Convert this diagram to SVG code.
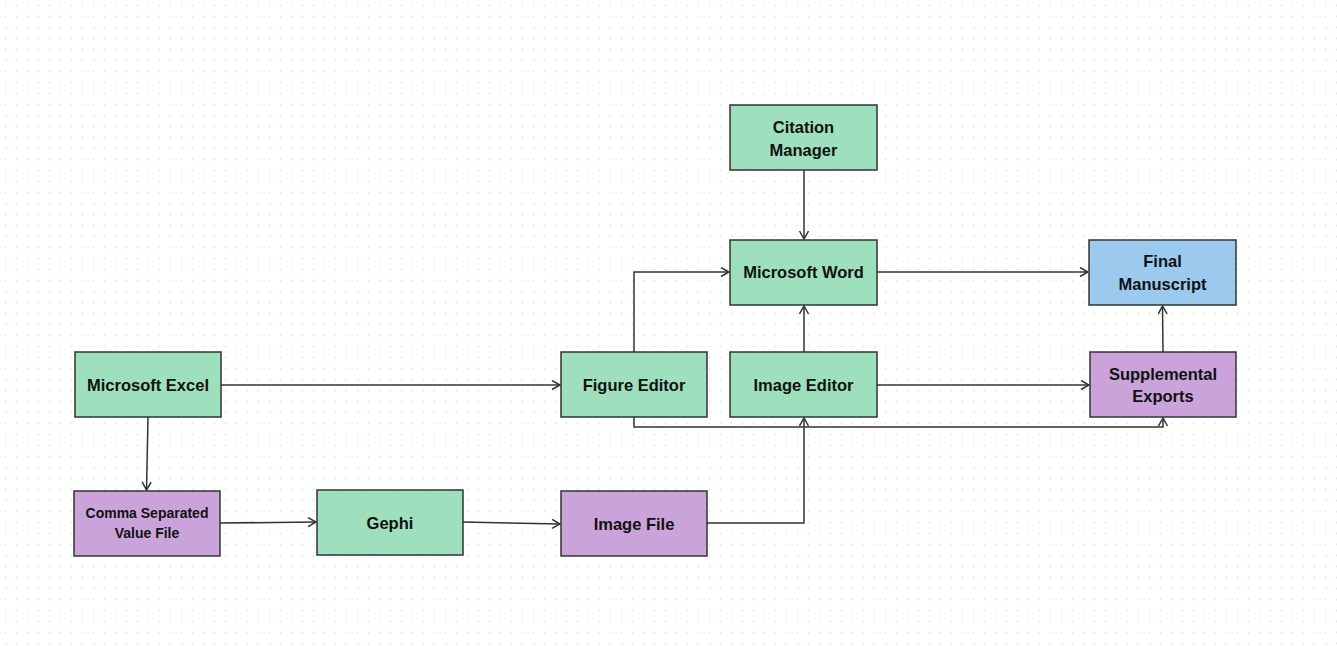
<svg xmlns="http://www.w3.org/2000/svg" width="1337" height="646" viewBox="0 0 1337 646">
<defs>
<pattern id="dots" x="0" y="0" width="11" height="11" patternUnits="userSpaceOnUse">
<circle cx="5.5" cy="5.5" r="0.9" fill="#e4e4e4"/>
</pattern>
<marker id="arr" markerUnits="userSpaceOnUse" markerWidth="12" markerHeight="12" refX="9" refY="5" orient="auto">
<path d="M1,0.5 L9,5 L1,9.5" fill="none" stroke="#333" stroke-width="1.5"/>
</marker>
</defs>
<style>
.n rect{stroke:#333;stroke-width:1.5}
.g rect{fill:#9ee0bd}
.p rect{fill:#c9a3da}
.b rect{fill:#9ccaef}
text{font-family:"Liberation Sans",Arial,sans-serif;font-weight:bold;font-size:16.5px;fill:#111;text-anchor:middle}
.sm{font-size:14px}
#connectors path{fill:none;stroke:#333;stroke-width:1.5;marker-end:url(#arr)}
</style>
<rect width="1337" height="646" fill="#ffffff"/>
<rect width="1337" height="646" fill="url(#dots)"/>
<g id="connectors">
<path d="M221,385 H560"/>
<path d="M148,417 L146.5,490"/>
<path d="M220,523 L316,522"/>
<path d="M463,522 L560,524"/>
<path d="M707,523 H804 V418"/>
<path d="M634,352 V272 H729"/>
<path d="M634,417 V427 H1163 V418"/>
<path d="M804,170 V239"/>
<path d="M804,352 V306"/>
<path d="M877,272 H1088"/>
<path d="M877,385 H1089"/>
<path d="M1163,352 L1162.5,306"/>
</g>
<g id="citation" class="n g"><rect x="730" y="105" width="147" height="65"/><text x="803.5" y="133">Citation</text><text x="803.5" y="156">Manager</text></g>
<g id="word" class="n g"><rect x="730" y="240" width="147" height="65"/><text x="803.5" y="278">Microsoft Word</text></g>
<g id="final" class="n b"><rect x="1089" y="240" width="147" height="65"/><text x="1162.5" y="267">Final</text><text x="1162.5" y="290">Manuscript</text></g>
<g id="excel" class="n g"><rect x="75" y="352" width="146" height="65"/><text x="148" y="391">Microsoft Excel</text></g>
<g id="figure" class="n g"><rect x="561" y="352" width="146" height="65"/><text x="634" y="391">Figure Editor</text></g>
<g id="imageeditor" class="n g"><rect x="730" y="352" width="147" height="65"/><text x="803.5" y="391">Image Editor</text></g>
<g id="supplemental" class="n p"><rect x="1090" y="352" width="146" height="65"/><text x="1163" y="380">Supplemental</text><text x="1163" y="402">Exports</text></g>
<g id="csv" class="n p"><rect x="74" y="491" width="146" height="65"/><text class="sm" x="147" y="518">Comma Separated</text><text class="sm" x="147" y="538">Value File</text></g>
<g id="gephi" class="n g"><rect x="317" y="490" width="146" height="65"/><text x="390" y="529">Gephi</text></g>
<g id="imagefile" class="n p"><rect x="561" y="491" width="146" height="65"/><text x="634" y="530">Image File</text></g>
</svg>
